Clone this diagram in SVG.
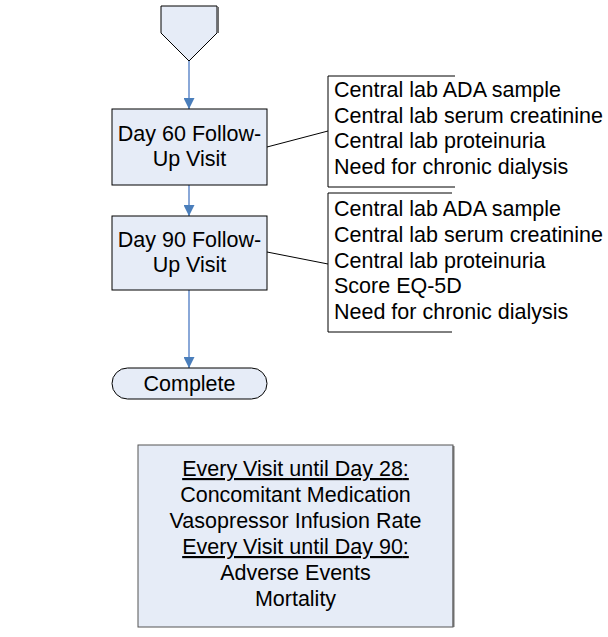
<svg xmlns="http://www.w3.org/2000/svg" width="608" height="637" viewBox="0 0 608 637">
<defs>
<style>
.box{fill:#e6ecf7;stroke:#000;stroke-width:1}
.t{font-family:"Liberation Sans",Arial,sans-serif;font-size:21.5px;fill:#000}
.c{text-anchor:middle}
.ln{stroke:#000;stroke-width:1;fill:none}
.flow{stroke:#8aa8d8;stroke-width:2;fill:none}
.sh{stroke:#6e6e6e;stroke-width:2;fill:none}
</style>
<marker id="ah" viewBox="0 0 10 10" refX="10" refY="5" markerWidth="11" markerHeight="11" markerUnits="userSpaceOnUse" orient="auto">
<path d="M0,0 L10,5 L0,10 z" fill="#4a7ebb"/>
</marker>
</defs>
<rect width="608" height="637" fill="#fff"/>
<g id="connectors">
<line class="flow" x1="189" y1="61" x2="189" y2="109" marker-end="url(#ah)"/>
<line class="flow" x1="189" y1="185" x2="189" y2="216" marker-end="url(#ah)"/>
<line class="flow" x1="189" y1="290" x2="189" y2="368" marker-end="url(#ah)"/>
<line class="ln" x1="267" y1="147" x2="328" y2="131"/>
<line class="ln" x1="267" y1="252" x2="328" y2="264"/>
</g>
<g id="start">
<path class="box" d="M161,6 L217,6 L217,33 L189,61 L161,33 Z"/>
<line class="sh" x1="218" y1="7" x2="218" y2="33"/>
</g>
<g id="day60">
<rect class="box" x="112" y="109" width="155" height="76"/>
<text class="t c" x="189.5" y="141">Day 60 Follow-</text>
<text class="t c" x="189.5" y="166">Up Visit</text>
</g>
<g id="day90">
<rect class="box" x="112" y="216" width="155" height="74"/>
<text class="t c" x="189.5" y="247">Day 90 Follow-</text>
<text class="t c" x="189.5" y="272">Up Visit</text>
</g>
<g id="complete">
<rect class="box" x="112" y="368" width="155" height="31" rx="15.5" ry="15.5"/>
<text class="t c" x="189.5" y="391">Complete</text>
</g>
<g id="note60">
<path class="ln" d="M455,76 L328,76 L328,187 L455,187"/>
<text class="t" x="334" y="97">Central lab ADA sample</text>
<text class="t" x="334" y="122.7">Central lab serum creatinine</text>
<text class="t" x="334" y="148.4">Central lab proteinuria</text>
<text class="t" x="334" y="174">Need for chronic dialysis</text>
</g>
<g id="note90">
<path class="ln" d="M452,193 L328,193 L328,332 L452,332"/>
<text class="t" x="334" y="216">Central lab ADA sample</text>
<text class="t" x="334" y="242">Central lab serum creatinine</text>
<text class="t" x="334" y="267.5">Central lab proteinuria</text>
<text class="t" x="334" y="293">Score EQ-5D</text>
<text class="t" x="334" y="319">Need for chronic dialysis</text>
</g>
<g id="legend">
<rect class="box" x="138" y="445" width="315" height="182" style="stroke:#555"/>
<line class="sh" x1="453.5" y1="446" x2="453.5" y2="627"/>
<text class="t c" x="295.5" y="476" text-decoration="underline">Every Visit until Day 28<tspan text-decoration="none">:</tspan></text>
<text class="t c" x="295.5" y="502">Concomitant Medication</text>
<text class="t c" x="295.5" y="528">Vasopressor Infusion Rate</text>
<text class="t c" x="295.5" y="554" text-decoration="underline">Every Visit until Day 90<tspan text-decoration="none">:</tspan></text>
<text class="t c" x="295.5" y="580">Adverse Events</text>
<text class="t c" x="295.5" y="606">Mortality</text>
</g>
</svg>
